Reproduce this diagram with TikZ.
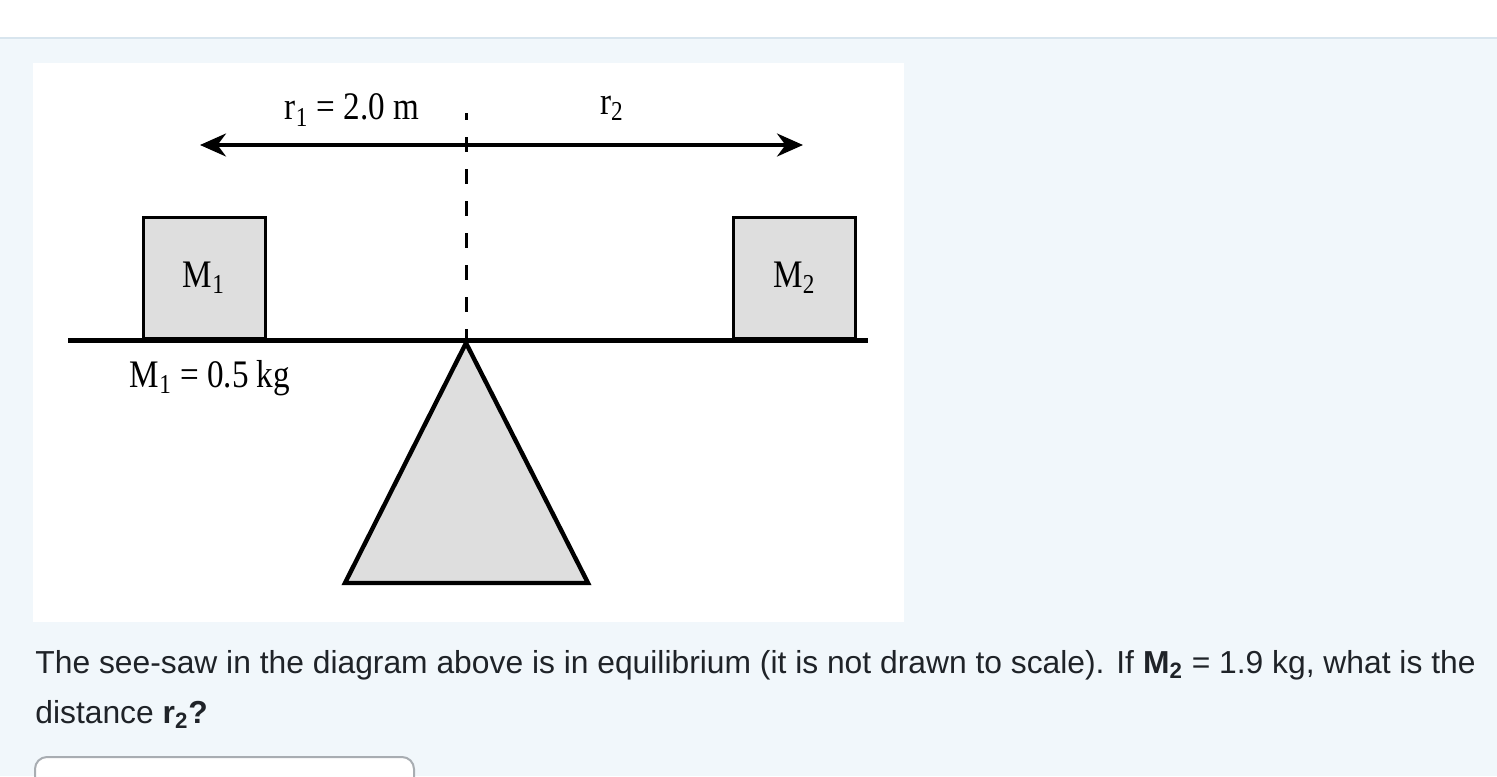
\documentclass[tikz,border=0pt]{standalone}
\usepackage{fontspec}
\usepackage{tikz}
\usetikzlibrary{arrows.meta}
\newfontfamily\webfont{Liberation Sans}
\newfontfamily\lblfont[FakeStretch=0.85]{Liberation Serif}
\definecolor{pagebg}{HTML}{F1F7FB}
\definecolor{rulecol}{HTML}{D8E5EE}
\definecolor{massfill}{HTML}{DEDEDE}
\definecolor{txtcol}{HTML}{1F2328}
\definecolor{inputcol}{HTML}{A8ADB2}

\begin{document}
\begin{tikzpicture}[x=0.5pt,y=-0.5pt,
    mass/.style={draw,line width=1.5pt,fill=massfill,minimum width=61pt,minimum height=60.5pt,inner sep=0pt,font=\lblfont\fontsize{19.5}{22}\selectfont},
    lbl/.style={inner sep=0pt,font=\lblfont\fontsize{19.5}{22}\selectfont},
    qtext/.style={inner sep=0pt,anchor=base west,text=txtcol,font=\webfont\fontsize{15.9}{18}\selectfont}]
    % page and panel
    \useasboundingbox (0,0) rectangle (1497,776);
    \fill[white] (0,0) rectangle (1497,37);
    \fill[pagebg] (0,37) rectangle (1497,776);
    \draw[rulecol,line width=1pt] (0,37.5) -- (1497,37.5);
    \fill[white] (33,63) rectangle (904,622);
    % distance arrow
    \coordinate (arrL) at (200,145);
    \coordinate (arrR) at (803,145);
    \draw[line width=1.7pt,{Stealth[length=13pt,width=11.5pt]}-{Stealth[length=13pt,width=11.5pt]}] (arrL) -- (arrR);
    \node[lbl] (rone) at (352,110) {r\textsubscript{1} = 2.0 m};
    \node[lbl] (rtwo) at (612,108) {r\textsubscript{2}};
    % pivot line
    \coordinate (top) at (466,113);
    \coordinate (pivot) at (466,341);
    \draw[line width=1.5pt,dash pattern=on 7.5pt off 8.5pt,dash phase=4pt] (top) -- (pivot);
    % fulcrum
    \draw[line width=2.2pt,fill=massfill,line join=miter] (466,343) -- (588,583) -- (345,583) -- cycle;
    % beam
    \coordinate (beamL) at (68,340);
    \coordinate (beamR) at (868,340);
    \draw[line width=2.5pt] (beamL) -- (beamR);
    % masses
    \node[mass] (Mone) at (204,277.5) {M\textsubscript{1}};
    \node[mass] (Mtwo) at (794.5,277.5) {M\textsubscript{2}};
    \node[lbl] (Mval) at (210,378) {M\textsubscript{1} = 0.5 kg};
    % question
    \node[qtext] (qone) at (35,673) {The see-saw in the diagram above is in equilibrium (it is not drawn to scale). If \textbf{M\textsubscript{2}} = 1.9 kg, what is the};
    \node[qtext] (qtwo) at (35,723) {distance \textbf{r\textsubscript{2}?}};
    \draw[inputcol,fill=white,line width=1pt,rounded corners=6pt] (35,800) -- (35,757) -- (414,757) -- (414,800);
\end{tikzpicture}
\end{document}
